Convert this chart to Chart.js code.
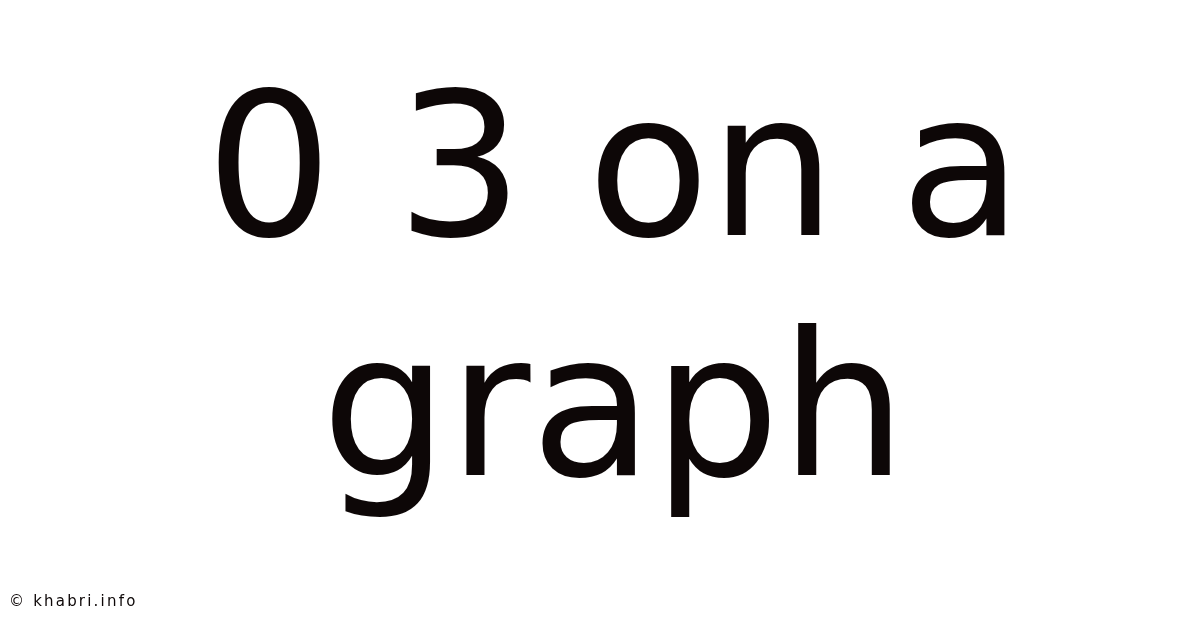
<!DOCTYPE html>
<html>
<head>
<meta charset="utf-8">
<script src="https://cdn.jsdelivr.net/npm/chart.js@4.4.1/dist/chart.umd.min.js"></script>
<style>
  html, body { margin: 0; padding: 0; background: #fff; }
  #wrap { position: relative; width: 1200px; height: 628px; }
  #credit {
    position: absolute; left: 9px; top: 592px;
    font-family: "DejaVu Sans", sans-serif; font-size: 15px;
    letter-spacing: 2.2px; color: #0d0707;
  }
</style>
</head>
<body>
<div id="wrap">
  <canvas id="titleChart"></canvas>
  <div id="credit">© khabri.info</div>
</div>
<script>
// text shown on the card, one entry per line
var titleLines = ['0 3 on a', 'graph'];
var labels = [];
var values = [];

document.addEventListener('DOMContentLoaded', function() {
    var ctx = document.getElementById('titleChart').getContext('2d');
    var chart = new Chart(ctx, {
        type: 'scatter',
        data: {
            labels: labels,
            datasets: [{
                data: values,
                pointRadius: 0
            }]
        },
        options: {
            responsive: true,
            maintainAspectRatio: false,
            animation: false,
            layout: { padding: { left: 28 } },
            scales: {
                x: { display: false },
                y: { display: false }
            },
            plugins: {
                legend: { display: false },
                tooltip: { enabled: false },
                title: {
                    display: true,
                    text: titleLines,
                    color: '#0d0707',
                    font: { family: 'DejaVu Sans', size: 200, weight: 'normal', lineHeight: 1.2 },
                    padding: { top: 63, bottom: 0 }
                }
            }
        }
    });
});
</script>
</body>
</html>
